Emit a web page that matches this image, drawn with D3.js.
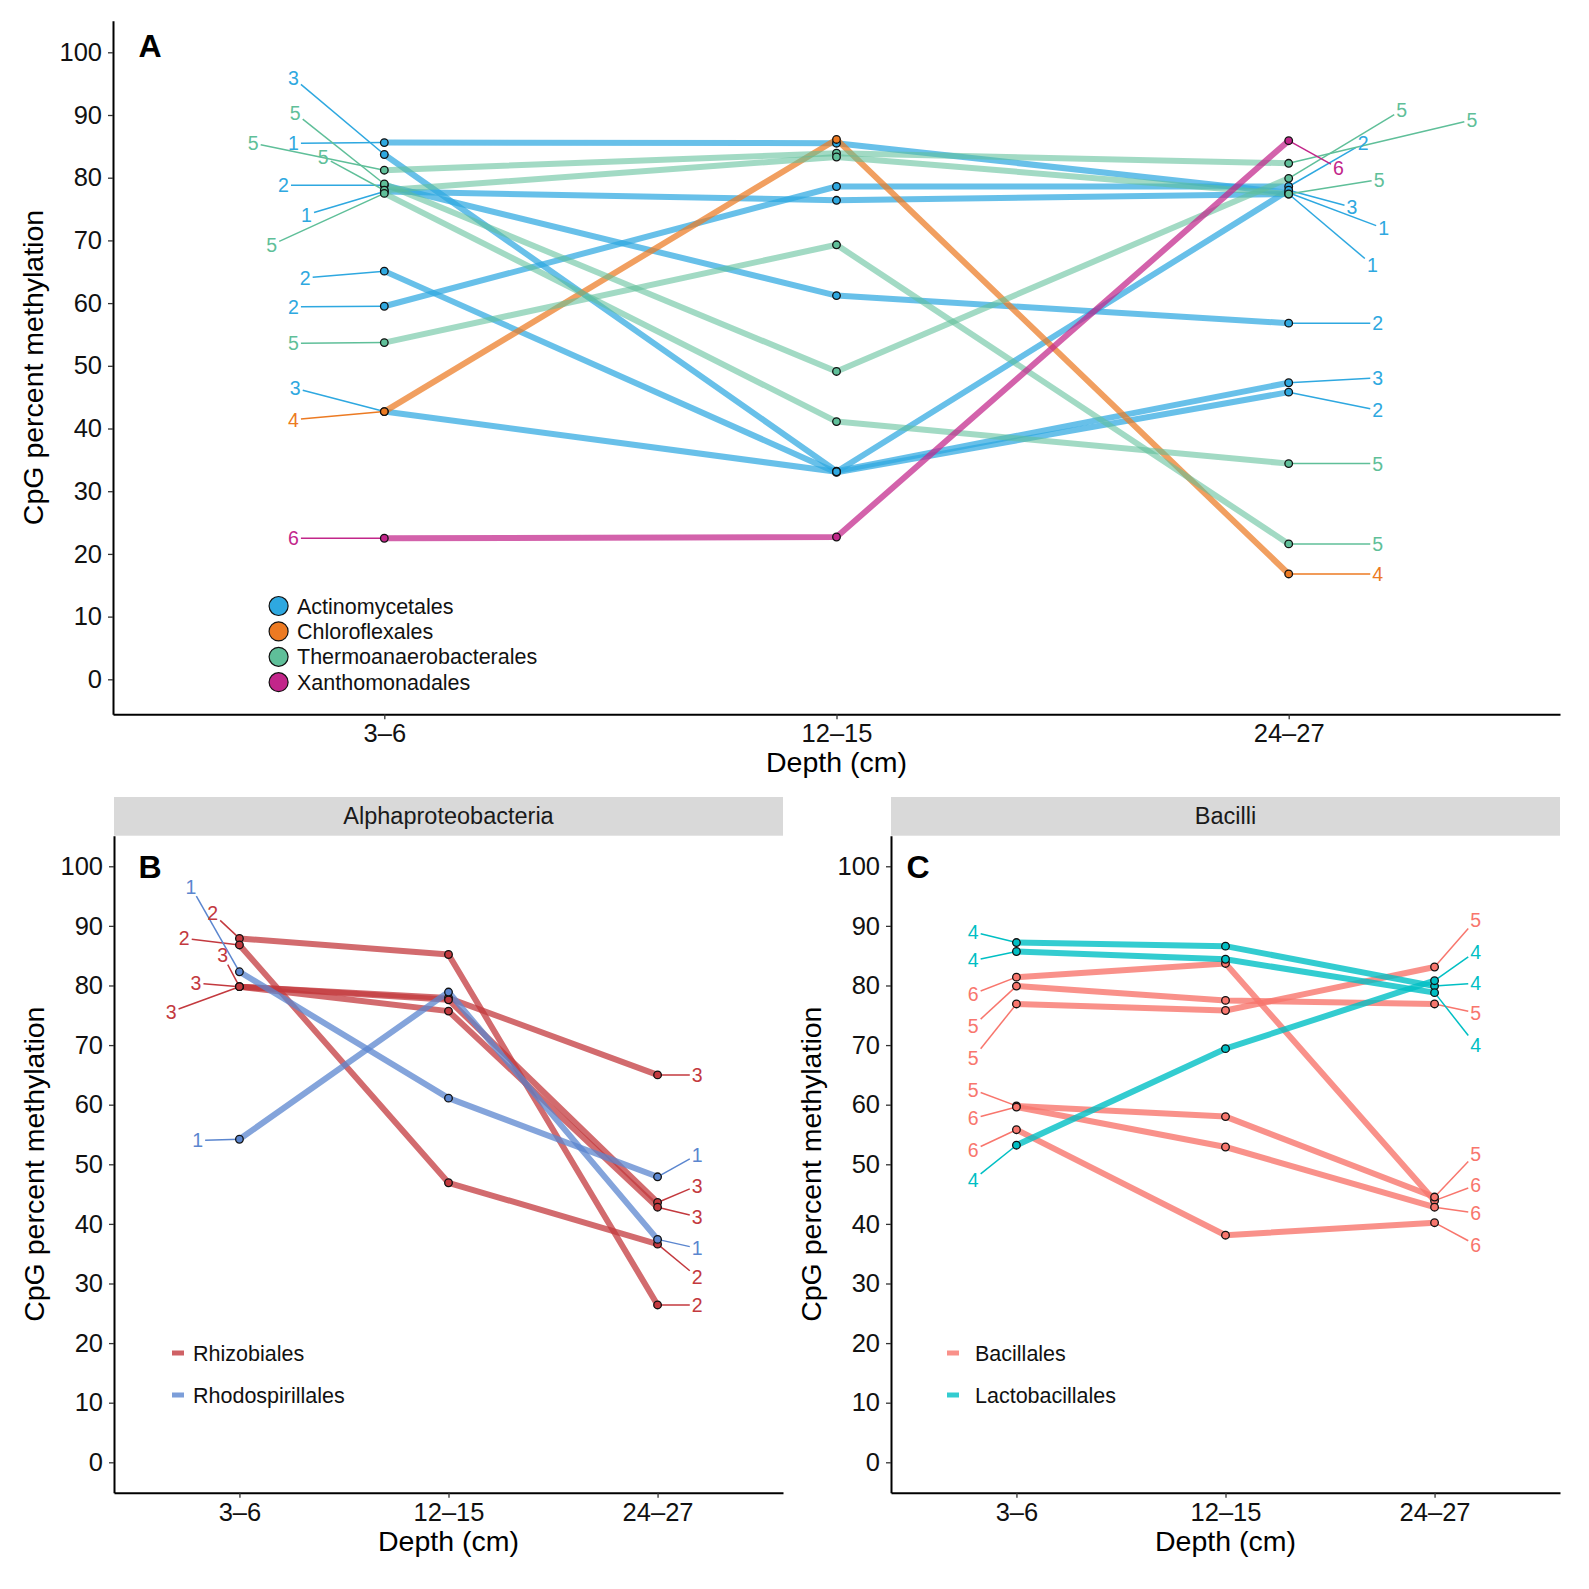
<!DOCTYPE html>
<html><head><meta charset="utf-8">
<script src="https://cdn.jsdelivr.net/npm/d3@7"></script>
<style>
body{margin:0;background:#fff}
svg{display:block}
text{font-family:"Liberation Sans",Arial,Helvetica,sans-serif}
</style>
</head><body>
<svg id="chart" width="1589" height="1589"></svg>
<script>
// ---------------- data ----------------
const depths = ["3–6", "12–15", "24–27"];
const yTicks = [0, 10, 20, 30, 40, 50, 60, 70, 80, 90, 100];

// Panel A
const ordersA = ["Actinomycetales", "Chloroflexales", "Thermoanaerobacterales", "Xanthomonadales"];
const lineOrderA = [0, 0, 0, 0, 0, 0, 0, 1, 2, 2, 2, 2, 2, 3];
const lineIdA = [1, 3, 2, 1, 2, 2, 3, 4, 5, 5, 5, 5, 5, 6];
const valuesA = [
  [85.6, 85.5, 77.6],
  [83.7, 33.2, 47.3],
  [78.8, 61.2, 56.8],
  [77.8, 76.4, 77.4],
  [65.1, 33.0, 45.8],
  [59.5, 78.6, 78.6],
  [42.7, 33.1, 78.0],
  [42.7, 86.1, 16.8],
  [81.2, 83.9, 82.3],
  [79.0, 49.1, 79.9],
  [78.0, 83.3, 77.4],
  [77.5, 41.1, 34.4],
  [53.7, 69.3, 21.6],
  [22.5, 22.7, 85.9]
];
// repelled label anchors: [offset in category steps, value]
const labelLeftA = [[-0.201, 85.5], [-0.201, 95.9], [-0.223, 78.8], [-0.172, 74.1], [-0.175, 64.0], [-0.201, 59.4], [-0.197, 46.4], [-0.201, 41.4], [-0.29, 85.5], [-0.197, 90.3], [-0.135, 83.3], [-0.249, 69.3], [-0.201, 53.6], [-0.201, 22.5]];
const labelRightA = [[0.21, 71.9], [0.197, 48.1], [0.197, 56.8], [0.185, 66.1], [0.197, 42.9], [0.165, 85.5], [0.14, 75.3], [0.197, 16.8], [0.405, 89.2], [0.25, 90.8], [0.2, 79.7], [0.197, 34.4], [0.197, 21.6], [0.11, 81.5]];

// Panel B (Alphaproteobacteria)
const ordersB = ["Rhizobiales", "Rhodospirillales"];
const lineOrderB = [0, 0, 0, 0, 0, 1, 1];
const lineIdB = [2, 2, 3, 3, 3, 1, 1];
const valuesB = [
  [87.9, 85.2, 26.4],
  [86.8, 46.9, 36.6],
  [79.8, 77.9, 65.0],
  [79.8, 77.6, 43.6],
  [79.8, 75.7, 42.8],
  [82.3, 61.1, 47.9],
  [54.2, 78.9, 37.4]
];
const labelLeftB = [[-0.128, 92.1], [-0.264, 87.9], [-0.208, 80.4], [-0.08, 85.1], [-0.327, 75.6], [-0.232, 96.6], [-0.2, 54.0]];
const labelRightB = [[0.19, 26.4], [0.19, 31.1], [0.19, 65.0], [0.19, 46.4], [0.19, 41.2], [0.19, 51.6], [0.19, 35.9]];

// Panel C (Bacilli)
const ordersC = ["Bacillales", "Lactobacillales"];
const lineOrderC = [0, 0, 0, 0, 0, 0, 1, 1, 1];
const lineIdC = [6, 5, 5, 5, 6, 6, 4, 4, 4];
const valuesC = [
  [81.4, 83.7, 43.9],
  [79.9, 77.5, 76.9],
  [76.9, 75.8, 83.1],
  [59.8, 58.0, 44.5],
  [59.6, 52.9, 42.8],
  [55.8, 38.1, 40.2],
  [87.2, 86.6, 79.9],
  [85.7, 84.4, 78.8],
  [53.2, 69.4, 80.8]
];
const labelLeftC = [[-0.207, 78.6], [-0.207, 73.2], [-0.207, 67.8], [-0.207, 62.5], [-0.207, 57.7], [-0.207, 52.4], [-0.207, 89.0], [-0.207, 84.2], [-0.207, 47.4]];
const labelRightC = [[0.197, 46.5], [0.197, 75.4], [0.197, 91.0], [0.197, 51.8], [0.197, 41.8], [0.197, 36.5], [0.197, 80.4], [0.197, 70.0], [0.197, 85.7]];

// ---------------- styles ----------------
const paletteA = ["#2ea8e0", "#ec7a22", "#5fbf99", "#c2268a"];
const alphaA = [0.72, 0.72, 0.58, 0.72];
const paletteB = ["#c3393e", "#5b86cf"];
const alphaB = [0.75, 0.75];
const paletteC = ["#f8766d", "#00bfc4"];
const alphaC = [0.8, 0.8];

const svg = d3.select("#chart");
svg.append("rect").attr("width", 1589).attr("height", 1589).attr("fill", "#fff");

function panel(cfg) {
  const g = svg.append("g");
  const x = d3.scalePoint().domain(depths).range([cfg.left, cfg.right]).padding(0.6);
  const y = d3.scaleLinear().domain(cfg.yDomain).range([cfg.bottom, cfg.top]);
  const step = x.step();

  // strip
  if (cfg.strip) {
    g.append("rect").attr("x", cfg.left).attr("y", cfg.stripTop)
      .attr("width", cfg.right - cfg.left).attr("height", cfg.top - cfg.stripTop)
      .attr("fill", "#d9d9d9");
    g.append("text").attr("x", (cfg.left + cfg.right) / 2).attr("y", (cfg.stripTop + cfg.top) / 2 + 8)
      .attr("text-anchor", "middle").style("font-size", "23.5px").attr("fill", "#1a1a1a").text(cfg.strip);
  }

  // axes
  const ax = g.append("g").attr("transform", `translate(0,${cfg.bottom})`)
    .call(d3.axisBottom(x).tickSize(5).tickSizeOuter(0).tickPadding(5));
  const ay = g.append("g").attr("transform", `translate(${cfg.left},0)`)
    .call(d3.axisLeft(y).tickValues(yTicks).tickSize(5).tickSizeOuter(0).tickPadding(6));
  [ax, ay].forEach(a => {
    a.attr("font-family", null).attr("font-size", null);
    a.select(".domain").attr("stroke", "#000").attr("stroke-width", 2);
    a.selectAll(".tick line").attr("stroke", "#333").attr("stroke-width", 1.3);
    a.selectAll(".tick text").attr("fill", "#111").style("font-size", "25.5px");
  });

  // axis titles
  g.append("text").attr("x", (cfg.left + cfg.right) / 2).attr("y", cfg.bottom + 58)
    .attr("text-anchor", "middle").style("font-size", "28.5px").attr("fill", "#000").text("Depth (cm)");
  g.append("text").attr("transform", `translate(${cfg.left - 70},${(cfg.top + cfg.bottom) / 2}) rotate(-90)`)
    .attr("text-anchor", "middle").style("font-size", "28.5px").attr("fill", "#000").text("CpG percent methylation");

  // panel letter
  g.append("text").attr("x", cfg.letterX).attr("y", cfg.letterY).attr("text-anchor", "middle")
    .style("font-size", "32px").style("font-weight", "bold").attr("fill", "#000").text(cfg.letter);

  const line = d3.line().x((d, i) => x(depths[i])).y(d => y(d));

  // main lines
  cfg.values.forEach((vals, k) => {
    g.append("path").attr("d", line(vals)).attr("fill", "none")
      .attr("stroke", cfg.palette[cfg.order[k]]).attr("stroke-width", 6)
      .attr("stroke-opacity", cfg.alpha[cfg.order[k]]).attr("stroke-linejoin", "round");
  });

  // leader segments
  function seg(px, py, lx, ly) {
    const dx = lx - px, dy = ly - py, hx = 7.5, hy = 9.5;
    const s = Math.min(dx ? hx / Math.abs(dx) : Infinity, dy ? hy / Math.abs(dy) : Infinity);
    if (s >= 1) return null;
    return [px, py, lx - dx * s, ly - dy * s];
  }
  const labels = [];
  cfg.values.forEach((vals, k) => {
    [[0, cfg.labL[k]], [2, cfg.labR[k]]].forEach(([i, a]) => {
      const px = x(depths[i]), py = y(vals[i]);
      const lx = px + a[0] * step, ly = y(a[1]);
      const s = seg(px, py, lx, ly);
      const col = cfg.palette[cfg.order[k]];
      if (s) g.append("line").attr("x1", s[0]).attr("y1", s[1]).attr("x2", s[2]).attr("y2", s[3])
        .attr("stroke", col).attr("stroke-width", 1.5);
      labels.push({ lx, ly, col, t: cfg.ids[k] });
    });
  });

  // points
  cfg.values.forEach((vals, k) => {
    vals.forEach((v, i) => {
      g.append("circle").attr("cx", x(depths[i])).attr("cy", y(v)).attr("r", 3.8)
        .attr("fill", cfg.palette[cfg.order[k]]).attr("stroke", "#111").attr("stroke-width", 1.3);
    });
  });

  // labels
  labels.forEach(l => {
    g.append("text").attr("x", l.lx).attr("y", l.ly + 7).attr("text-anchor", "middle")
      .style("font-size", "19.5px").attr("fill", l.col).text(l.t);
  });

  // legend
  cfg.legend.names.forEach((name, i) => {
    const cy = cfg.legend.y0 + i * cfg.legend.dy;
    if (cfg.legend.type === "circle") {
      g.append("circle").attr("cx", cfg.legend.keyX).attr("cy", cy).attr("r", 9.5)
        .attr("fill", cfg.palette[i]).attr("stroke", "#111").attr("stroke-width", 1.2);
    } else {
      g.append("rect").attr("x", cfg.legend.keyX).attr("y", cy - 2.5).attr("width", 12).attr("height", 5)
        .attr("fill", cfg.palette[i]).attr("fill-opacity", 0.8);
    }
    g.append("text").attr("x", cfg.legend.textX).attr("y", cy + 7.5)
      .style("font-size", "21.5px").attr("fill", "#111").text(name);
  });
}

panel({
  left: 113, right: 1560, top: 20.7, bottom: 714.3, yDomain: [-5.58, 105.04],
  values: valuesA, order: lineOrderA, ids: lineIdA, labL: labelLeftA, labR: labelRightA,
  palette: paletteA, alpha: alphaA, letter: "A", letterX: 150, letterY: 57,
  legend: { names: ordersA, type: "circle", keyX: 278.6, textX: 297, y0: 606, dy: 25.4 }
});
panel({
  left: 114, right: 783, top: 835.7, bottom: 1492.7, yDomain: [-5.1, 105.13], stripTop: 797,
  strip: "Alphaproteobacteria",
  values: valuesB, order: lineOrderB, ids: lineIdB, labL: labelLeftB, labR: labelRightB,
  palette: paletteB, alpha: alphaB, letter: "B", letterX: 150, letterY: 878,
  legend: { names: ordersB, type: "line", keyX: 172, textX: 193, y0: 1353, dy: 42 }
});
panel({
  left: 891, right: 1560, top: 835.7, bottom: 1492.7, yDomain: [-5.1, 105.13], stripTop: 797,
  strip: "Bacilli",
  values: valuesC, order: lineOrderC, ids: lineIdC, labL: labelLeftC, labR: labelRightC,
  palette: paletteC, alpha: alphaC, letter: "C", letterX: 918, letterY: 878,
  legend: { names: ordersC, type: "line", keyX: 947, textX: 975, y0: 1353, dy: 42 }
});
</script>
</body></html>
